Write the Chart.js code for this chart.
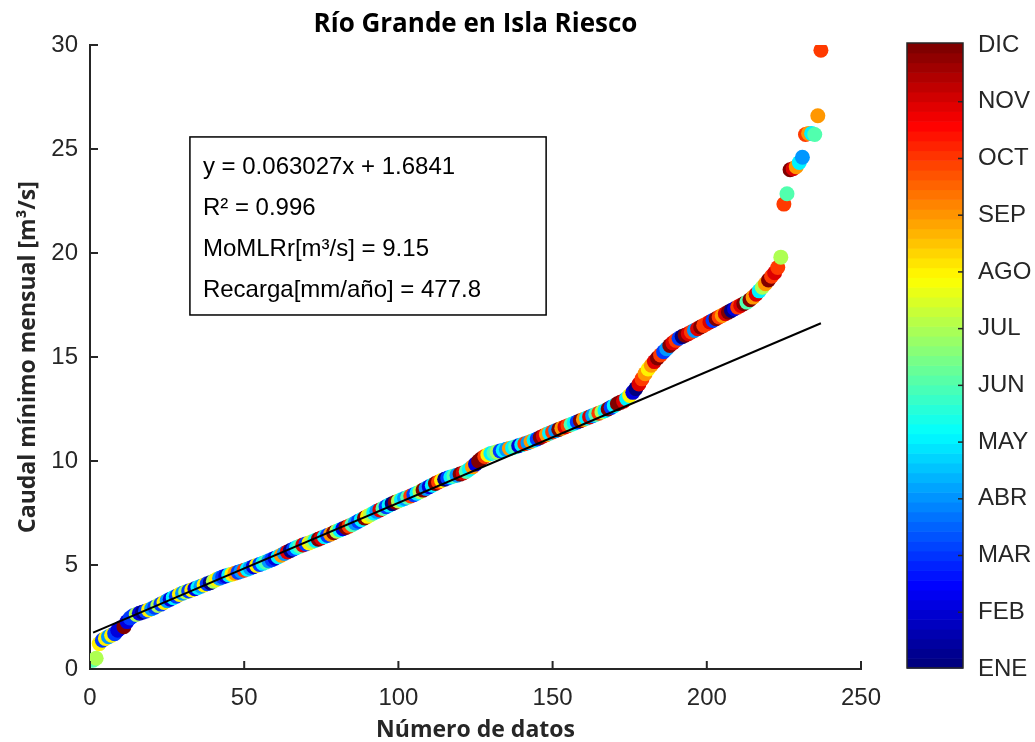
<!DOCTYPE html>
<html>
<head>
<meta charset="utf-8">
<script src="https://cdn.jsdelivr.net/npm/chart.js@4.4.0/dist/chart.umd.min.js"></script>
<style>
  html, body { margin: 0; padding: 0; background: #fff; }
</style>
</head>
<body>
<canvas id="myChart" width="1035" height="742"></canvas>
<script>
var titulo = 'Río Grande en Isla Riesco';
var meses = ['ENE', 'FEB', 'MAR', 'ABR', 'MAY', 'JUN', 'JUL', 'AGO', 'SEP', 'OCT', 'NOV', 'DIC'];
var xTicks = [0, 50, 100, 150, 200, 250];
var yTicks = [0, 5, 10, 15, 20, 25, 30];

// caudal minimo mensual ordenado (m3/s), uno por dato
var caudal = [
  0.42, 0.52, 1.22, 1.38, 1.47, 1.55, 1.62, 1.70, 1.86, 1.98,
  2.03, 2.28, 2.45, 2.56, 2.62, 2.68, 2.73, 2.78, 2.84, 2.90,
  2.97, 3.05, 3.12, 3.20, 3.28, 3.35, 3.43, 3.50, 3.58, 3.64,
  3.70, 3.75, 3.80, 3.86, 3.92, 3.98, 4.04, 4.10, 4.15, 4.22,
  4.30, 4.36, 4.42, 4.47, 4.52, 4.56, 4.60, 4.65, 4.70, 4.75,
  4.80, 4.86, 4.92, 4.98, 5.03, 5.08, 5.14, 5.20, 5.26, 5.33,
  5.40, 5.47, 5.55, 5.63, 5.70, 5.77, 5.84, 5.90, 5.96, 6.01,
  6.06, 6.12, 6.18, 6.24, 6.30, 6.36, 6.42, 6.48, 6.55, 6.62,
  6.68, 6.74, 6.80, 6.87, 6.94, 7.02, 7.10, 7.18, 7.26, 7.34,
  7.42, 7.50, 7.58, 7.65, 7.72, 7.80, 7.88, 7.95, 8.02, 8.08,
  8.14, 8.20, 8.26, 8.32, 8.38, 8.45, 8.52, 8.60, 8.68, 8.76,
  8.84, 8.92, 8.99, 9.06, 9.12, 9.18, 9.23, 9.28, 9.32, 9.37,
  9.42, 9.50, 9.60, 9.72, 9.85, 10.00, 10.12, 10.22, 10.30, 10.36,
  10.40, 10.44, 10.48, 10.52, 10.56, 10.60, 10.64, 10.68, 10.73, 10.78,
  10.83, 10.88, 10.94, 11.00, 11.06, 11.13, 11.20, 11.27, 11.34, 11.40,
  11.46, 11.52, 11.58, 11.64, 11.70, 11.76, 11.82, 11.88, 11.94, 12.00,
  12.06, 12.12, 12.18, 12.24, 12.30, 12.36, 12.42, 12.50, 12.58, 12.66,
  12.75, 12.82, 12.88, 13.00, 13.15, 13.30, 13.48, 13.70, 13.95, 14.20,
  14.42, 14.60, 14.78, 14.95, 15.10, 15.25, 15.40, 15.55, 15.68, 15.80,
  15.90, 15.98, 16.05, 16.12, 16.20, 16.28, 16.36, 16.44, 16.52, 16.60,
  16.68, 16.76, 16.84, 16.92, 17.00, 17.08, 17.16, 17.24, 17.32, 17.40,
  17.48, 17.56, 17.64, 17.75, 17.88, 18.02, 18.18, 18.35, 18.52, 18.70,
  18.88, 19.05, 19.30, 19.80,
  22.35, 22.85, 24.00, 24.05, 24.15, 24.35, 24.60, 25.70, 25.75, 25.75, 25.70, 26.60, 29.75
];

// mes de cada dato (1 = ENE ... 12 = DIC)
var mes = [
  6, 7, 8, 3, 8, 4, 8, 3, 2, 2,
  12, 2, 3, 3, 7, 2, 1, 3, 8, 4,
  3, 7, 3, 8, 4, 2, 5, 3, 8, 4,
  7, 3, 8, 2, 5, 4, 8, 3, 1, 7,
  8, 4, 3, 2, 5, 8, 9, 3, 4, 10,
  5, 4, 2, 8, 3, 5, 6, 4, 3, 2,
  5, 9, 4, 11, 1, 3, 5, 6, 11, 3,
  8, 7, 5, 12, 11, 5, 3, 9, 12, 7,
  5, 2, 12, 10, 6, 4, 3, 5, 12, 8,
  7, 5, 4, 11, 6, 3, 5, 1, 12, 7,
  5, 4, 6, 10, 3, 5, 7, 12, 4, 2,
  5, 12, 10, 8, 1, 3, 5, 6, 4, 12,
  11, 6, 5, 9, 2, 12, 12, 10, 8, 5,
  6, 7, 3, 5, 4, 9, 5, 6, 2, 5,
  10, 4, 9, 5, 3, 12, 11, 9, 5, 10,
  4, 12, 9, 11, 10, 6, 5, 3, 12, 9,
  5, 11, 4, 6, 10, 7, 5, 12, 3, 5,
  12, 12, 11, 5, 8, 2, 1, 11, 10, 9,
  8, 9, 11, 12, 10, 3, 4, 12, 11, 10,
  3, 1, 12, 11, 10, 4, 11, 12, 10, 10,
  11, 3, 12, 10, 9, 11, 12, 1, 2, 10,
  11, 12, 6, 12, 9, 11, 5, 7, 9, 12,
  10, 11, 10, 7,
  10, 6, 12, 11, 9, 5, 4, 10, 9, 5, 6, 9, 10
];

// ajuste lineal
var pendiente = 0.063027;
var intercepto = 1.6841;
var r2 = 0.996;
var momlrr = 9.15;
var recarga = 477.8;
var ajusteX = [1, 237];

function jetT(t) {
    function c(v) { return Math.round(255 * Math.max(0, Math.min(1, v))); }
    return 'rgb(' + c(1.5 - Math.abs(4 * t - 3)) + ',' + c(1.5 - Math.abs(4 * t - 2)) + ',' + c(1.5 - Math.abs(4 * t - 1)) + ')';
}
function colorMes(m) { return jetT((m - 1) / 11); }

var puntos = caudal.map(function (v, i) { return { x: i + 1, y: v }; });
var colores = mes.map(colorMes);
var linea = ajusteX.map(function (x) { return { x: x, y: pendiente * x + intercepto }; });

var textoCaja = [
    'y = ' + pendiente + 'x + ' + intercepto,
    'R\u00B2 = ' + r2,
    'MoMLRr[m\u00B3/s] = ' + momlrr.toFixed(2),
    'Recarga[mm/año] = ' + recarga
];

var tickFont = { family: '"Liberation Sans", Arial, sans-serif', size: 24 };
var tituloFont = { family: '"Open Sans", sans-serif', size: 23, weight: 'bold', lineHeight: 1 };
var gris = '#262626';

var extras = {
    id: 'extras',
    afterDraw: function (chart) {
        var c = chart.ctx, a = chart.chartArea;
        var sx = chart.scales.x, sy = chart.scales.y, cb = chart.scales.cb;
        c.save();

        // titulo
        c.fillStyle = '#000';
        c.font = 'bold 26px "Open Sans", sans-serif';
        c.textAlign = 'center';
        c.textBaseline = 'middle';
        c.fillText(titulo, (a.left + a.right) / 2, 25);

        // ticks hacia adentro
        c.strokeStyle = gris;
        c.lineWidth = 2;
        yTicks.forEach(function (v) {
            var p = sy.getPixelForValue(v);
            c.beginPath(); c.moveTo(a.left, p); c.lineTo(a.left + 8, p); c.stroke();
        });
        xTicks.forEach(function (v) {
            var p = sx.getPixelForValue(v);
            c.beginPath(); c.moveTo(p, a.bottom); c.lineTo(p, a.bottom - 8); c.stroke();
        });

        // barra de colores
        var x0 = cb.left + 46, x1 = cb.left + 102;
        var top = cb.getPixelForValue(12) - 2, bot = cb.getPixelForValue(1) - 1;
        var n = 64, h = (bot - top) / n;
        for (var k = 0; k < n; k++) {
            c.fillStyle = jetT(k / (n - 1));
            c.fillRect(x0, bot - (k + 1) * h, x1 - x0, h + 0.6);
        }
        c.lineWidth = 1.5;
        c.strokeRect(x0, top, x1 - x0, bot - top);
        for (var m = 2; m <= 11; m++) {
            var p = cb.getPixelForValue(m);
            c.beginPath(); c.moveTo(x1, p); c.lineTo(x1 - 5, p); c.stroke();
        }

        // caja de texto
        var bx0 = sx.getPixelForValue(32.4), bx1 = sx.getPixelForValue(147.9);
        var by0 = sy.getPixelForValue(25.58), by1 = sy.getPixelForValue(17.02);
        c.fillStyle = '#fff';
        c.fillRect(bx0, by0, bx1 - bx0, by1 - by0);
        c.strokeStyle = '#000';
        c.lineWidth = 1.5;
        c.strokeRect(bx0, by0, bx1 - bx0, by1 - by0);
        c.fillStyle = '#000';
        c.font = '24px "Liberation Sans", Arial, sans-serif';
        c.textAlign = 'left';
        textoCaja.forEach(function (t, i) {
            c.fillText(t, bx0 + 13, by0 + 30 + i * 41);
        });
        c.restore();
    }
};

var ctx = document.getElementById('myChart').getContext('2d');
var chart = new Chart(ctx, {
    type: 'scatter',
    data: {
        datasets: [{
            type: 'line',
            data: linea,
            borderColor: '#000',
            borderWidth: 2,
            pointRadius: 0,
            fill: false
        }, {
            data: puntos,
            backgroundColor: colores,
            borderWidth: 0,
            pointRadius: 7.5,
            pointHoverRadius: 7.5
        }]
    },
    plugins: [extras],
    options: {
        responsive: false,
        animation: false,
        layout: { padding: { top: 45, left: 0, right: 0, bottom: 0 } },
        plugins: { legend: { display: false }, tooltip: { enabled: false } },
        scales: {
            x: {
                type: 'linear', min: 0, max: 250,
                afterFit: function (s) { s.height = 73; },
                grid: { display: false, drawTicks: false },
                border: { display: true, color: gris, width: 2 },
                ticks: { stepSize: 50, color: gris, font: tickFont, padding: 15, maxRotation: 0 },
                title: { display: true, text: 'Número de datos', color: gris, font: tituloFont,
                    padding: { top: 0, bottom: 0 } }
            },
            y: {
                type: 'linear', min: 0, max: 30,
                afterFit: function (s) { s.width = 90; },
                grid: { display: false, drawTicks: false },
                border: { display: true, color: gris, width: 2 },
                ticks: { stepSize: 5, color: gris, font: tickFont, padding: 12 },
                title: { display: true, text: 'Caudal mínimo mensual [m\u00B3/s]', color: gris, font: tituloFont,
                    padding: { top: 17, bottom: 0 } }
            },
            cb: {
                type: 'linear', position: 'right', min: 1, max: 12,
                afterFit: function (s) { s.width = 174; },
                grid: { display: false, drawTicks: true, tickLength: 112 },
                border: { display: false },
                ticks: { stepSize: 1, color: gris, font: tickFont, padding: 5,
                    callback: function (v) { return meses[v - 1]; } }
            }
        }
    }
});
</script>
</body>
</html>
